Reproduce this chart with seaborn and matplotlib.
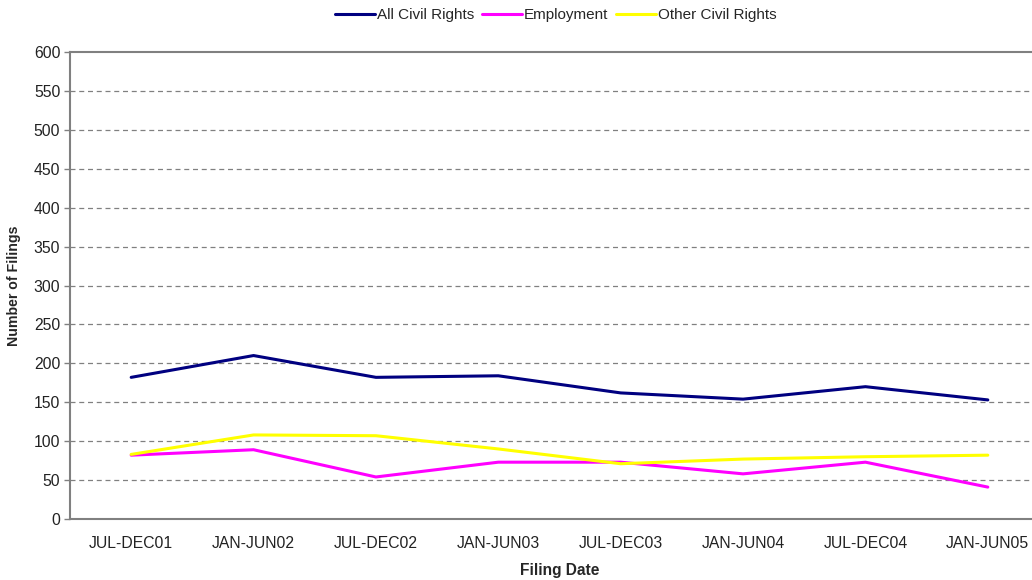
import matplotlib
matplotlib.use("Agg")
import matplotlib.pyplot as plt
import seaborn as sns
import pandas as pd

periods = ["JUL-DEC01", "JAN-JUN02", "JUL-DEC02", "JAN-JUN03",
           "JUL-DEC03", "JAN-JUN04", "JUL-DEC04", "JAN-JUN05"]
all_civil = [182, 210, 182, 184, 162, 154, 170, 153]
employment = [82, 89, 54, 73, 73, 58, 73, 41]
other_civil = [83, 108, 107, 90, 71, 77, 80, 82]

series_names = ["All Civil Rights", "Employment", "Other Civil Rights"]
colors = ["#000080", "#FF00FF", "#FFFF00"]

rows = []
for name, vals in zip(series_names, [all_civil, employment, other_civil]):
    for i, (p, v) in enumerate(zip(periods, vals)):
        rows.append({"idx": i, "period": p, "series": name, "value": v})
df = pd.DataFrame(rows)

sns.set_theme(style="white")
plt.rcParams['font.family'] = ['Liberation Sans', 'DejaVu Sans']

fig = plt.figure(figsize=(10.32, 5.8), dpi=100)
ax = fig.add_axes([70/1032, 61/580, (1049-70)/1032, 467/580])

sns.lineplot(data=df, x="idx", y="value", hue="series", hue_order=series_names,
             palette=colors, linewidth=2.2, ax=ax, legend=False)

ax.set_xlim(-0.5, len(periods) - 0.5)
ax.set_ylim(0, 600)
ax.set_yticks(range(0, 601, 50))
ax.set_xticks(range(len(periods)))
ax.set_xticklabels(periods)
ax.tick_params(axis='both', labelsize=11.3, colors='#222222')
ax.tick_params(axis='y', length=4, width=1, color='#808080', direction='out', left=True, pad=3)
ax.tick_params(axis='x', length=0, pad=12)

for y in range(50, 600, 50):
    ax.axhline(y, color='#808080', linestyle=(0, (4, 3)), linewidth=0.9, zorder=0)

for s in ['left', 'bottom', 'top']:
    ax.spines[s].set_visible(True)
    ax.spines[s].set_color('#808080')
    ax.spines[s].set_linewidth(1.5)
ax.spines['right'].set_visible(False)

ax.set_xlabel("Filing Date", fontsize=11.2, fontweight='bold', labelpad=9)
ax.set_ylabel("Number of Filings", fontsize=10.2, fontweight='bold', labelpad=9)

from matplotlib.lines import Line2D
handles = [Line2D([0], [0], color=c, lw=2.2) for c in colors]
fig.legend(handles, series_names, loc='center', bbox_to_anchor=(556/1032, 1 - 15/580),
           ncol=3, frameon=False, fontsize=11, handlelength=2.6, handletextpad=0.15,
           columnspacing=0.5)

fig.savefig("out.png", dpi=100)
